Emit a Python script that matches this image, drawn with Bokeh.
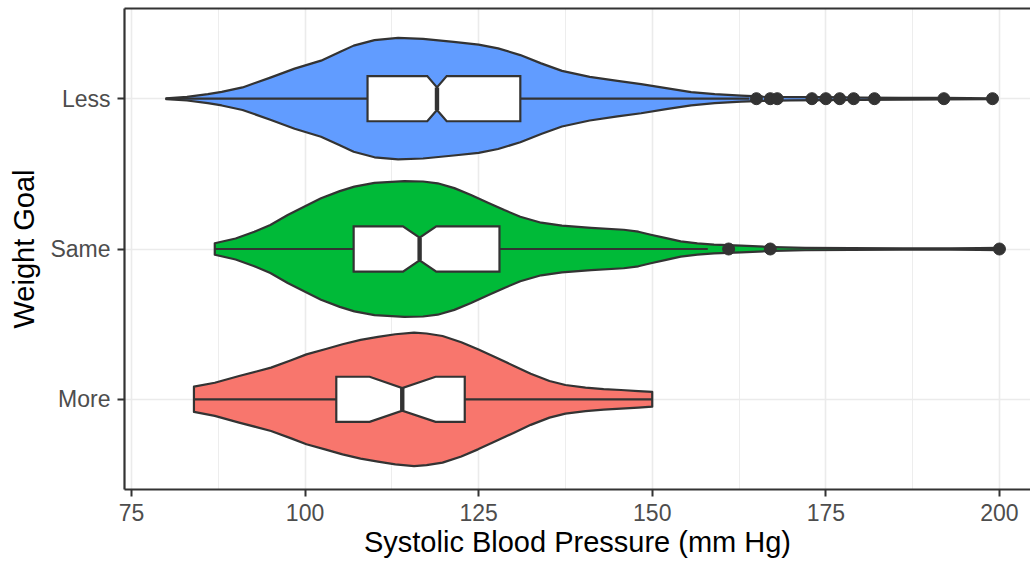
from bokeh.plotting import figure
from bokeh.models import Range1d, FixedTicker, LinearAxis
from bokeh.embed import file_html
from bokeh.resources import INLINE

# ---------------- data ----------------
groups = ["More", "Same", "Less"]
group_pos = [1, 2, 3]
colors = ["#F8766D", "#00BA38", "#619CFF"]

# violin density profiles: x value and half-width (in category units)
more_x = [84.0, 87, 90.5, 93, 95.1, 98, 100.2, 103, 105.4, 108, 110.5, 113, 115.7, 117.5,
          119.8, 122.5, 124.9, 127.5, 130.1, 132.5, 135.2, 137.5, 140.4, 143, 145.5, 148, 150.0]
more_w = [0.084, 0.11, 0.155, 0.185, 0.211, 0.26, 0.299, 0.335, 0.366, 0.395, 0.415, 0.433, 0.444, 0.438,
          0.421, 0.38, 0.333, 0.278, 0.222, 0.17, 0.122, 0.095, 0.078, 0.068, 0.062, 0.055, 0.049]

same_x = [87.0, 90, 92.7, 95, 97.5, 100, 102.3, 105, 107.1, 110, 114.3, 117, 119.1, 121.5, 123.9,
          126.5, 128.7, 131, 134, 137, 141.2, 145.9, 148, 149.8, 152, 154.1, 156.5, 158.9, 162.8,
          167.5, 172, 178.6, 186, 193, 197, 200]
same_w = [0.038, 0.07, 0.115, 0.16, 0.226, 0.285, 0.337, 0.385, 0.415, 0.44, 0.452, 0.449, 0.437, 0.405, 0.359,
          0.305, 0.259, 0.215, 0.175, 0.155, 0.14, 0.128, 0.115, 0.095, 0.072, 0.051, 0.038, 0.029, 0.022,
          0.013, 0.008, 0.006, 0.005, 0.005, 0.006, 0.008]

less_x = [80.0, 83, 86, 88, 91, 95, 98.5, 102.3, 105, 107, 110, 113.4, 117, 121.4, 125, 127.8, 131,
          134, 137, 141, 145, 148.4, 152, 155.6, 159, 162.8, 166, 170, 175, 180, 186, 192, 199]
less_w = [0.003, 0.012, 0.03, 0.045, 0.075, 0.14, 0.2, 0.253, 0.31, 0.353, 0.39, 0.404, 0.398, 0.378, 0.36, 0.335, 0.29,
          0.235, 0.185, 0.145, 0.118, 0.097, 0.07, 0.044, 0.03, 0.02, 0.014, 0.011, 0.01, 0.008, 0.006, 0.005, 0.003]

violin_x = [more_x, same_x, less_x]
violin_w = [more_w, same_w, less_w]

# notched boxplot statistics
q1 = [104.5, 107.0, 109.0]
median = [114.0, 116.5, 119.0]
q3 = [123.0, 128.0, 131.0]
notch_lo = [109.3, 114.1, 117.6]
notch_hi = [118.8, 118.9, 120.4]
whisker_lo = [84, 87, 80]
whisker_hi = [150, 158, 164]
outliers = [[], [161, 167, 200], [165, 167, 168, 173, 175, 177, 179, 182, 192, 199]]

x_ticks = [75, 100, 125, 150, 175, 200]

# ---------------- styling ----------------
INK = "#333333"
FONT = "Liberation Sans"
LW = 2.2
BOX_HALF = 0.15
NOTCH_HALF = 0.075

p = figure(width=1030, height=561,
           x_range=Range1d(74, 74 + 906 / 6.944), y_range=Range1d(0.4, 3.6),
           output_backend="svg", toolbar_location=None,
           min_border_left=124, min_border_right=0, min_border_top=8, min_border_bottom=72,
           x_axis_label="Systolic Blood Pressure (mm Hg)", y_axis_label="Weight Goal")
p.outline_line_color = None
p.background_fill_color = "white"
p.border_fill_color = "white"

for ax in (p.xaxis[0], p.yaxis[0]):
    ax.axis_line_color = INK
    ax.axis_line_width = LW
    ax.major_tick_line_color = INK
    ax.major_tick_line_width = 2
    ax.major_tick_out = 7
    ax.major_tick_in = 0
    ax.minor_tick_line_color = None
    ax.major_label_text_color = "#4D4D4D"
    ax.major_label_text_font = FONT
    ax.major_label_text_font_size = "23px"
    ax.major_label_standoff = 7
    ax.axis_label_text_font = FONT
    ax.axis_label_text_font_size = "29px"
    ax.axis_label_text_font_style = "normal"
    ax.axis_label_text_color = "black"
p.xaxis[0].axis_label_standoff = 2
p.yaxis[0].axis_label_standoff = 7

minor = [(a + b) / 2 for a, b in zip(x_ticks[:-1], x_ticks[1:])]
p.xaxis[0].ticker = FixedTicker(ticks=x_ticks, minor_ticks=minor)
p.yaxis[0].ticker = FixedTicker(ticks=group_pos)
p.yaxis[0].major_label_overrides = {pos: g for pos, g in zip(group_pos, groups)}

p.xgrid.grid_line_color = "#EBEBEB"
p.xgrid.grid_line_width = 1.6
p.xgrid.minor_grid_line_color = "#EBEBEB"
p.xgrid.minor_grid_line_width = 0.9
p.ygrid.grid_line_color = "#EBEBEB"
p.ygrid.grid_line_width = 1.6

top = LinearAxis(ticker=FixedTicker(ticks=[]), axis_line_color=INK, axis_line_width=LW,
                 major_tick_line_color=None, minor_tick_line_color=None,
                 major_label_text_font_size="0px")
p.add_layout(top, "above")

for i, c in enumerate(group_pos):
    vx, vw = violin_x[i], violin_w[i]
    xs = list(vx) + list(vx[::-1])
    ys = [c + w for w in vw] + [c - w for w in vw[::-1]]
    p.patch(xs, ys, fill_color=colors[i], line_color=INK, line_width=LW, line_join="round")

    # whiskers
    p.segment(x0=[whisker_lo[i], q3[i]], y0=[c, c], x1=[q1[i], whisker_hi[i]], y1=[c, c],
              line_color=INK, line_width=LW)
    # notched box
    bx = [q1[i], notch_lo[i], median[i], notch_hi[i], q3[i], q3[i], notch_hi[i], median[i], notch_lo[i], q1[i]]
    by = [c + BOX_HALF, c + BOX_HALF, c + NOTCH_HALF, c + BOX_HALF, c + BOX_HALF,
          c - BOX_HALF, c - BOX_HALF, c - NOTCH_HALF, c - BOX_HALF, c - BOX_HALF]
    p.patch(bx, by, fill_color="white", line_color=INK, line_width=LW, line_join="miter")
    # median
    p.segment(x0=[median[i]], y0=[c - NOTCH_HALF], x1=[median[i]], y1=[c + NOTCH_HALF],
              line_color=INK, line_width=2 * LW)
    # outliers
    if outliers[i]:
        p.scatter(x=outliers[i], y=[c] * len(outliers[i]), size=12, fill_color=INK, line_color=INK)

open("out.html", "w").write(file_html(p, INLINE))
